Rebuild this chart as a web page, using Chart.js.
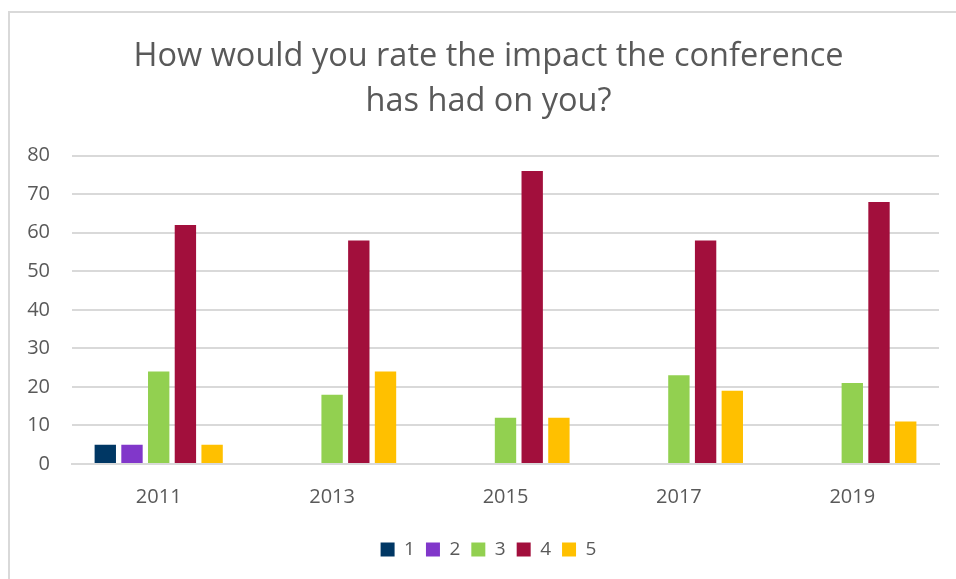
<!DOCTYPE html>
<html>
<head>
<meta charset="utf-8">
<script src="https://cdn.jsdelivr.net/npm/chart.js@4/dist/chart.umd.min.js"></script>
<style>
    html, body { margin: 0; padding: 0; background: #fff; }
    #frame {
        position: absolute; left: 8px; top: 11px; right: -10px; bottom: -10px;
        border-left: 2px solid #d9d9d9; border-top: 2px solid #d9d9d9;
    }
    #wrap { position: absolute; left: 0; top: 0; width: 956px; height: 579px; }
</style>
</head>
<body>
<div id="frame"></div>
<div id="wrap"><canvas id="chart"></canvas></div>
<script>
const years = ["2011", "2013", "2015", "2017", "2019"];
const ratings = ["1", "2", "3", "4", "5"];
const rating1 = [5, 0, 0, 0, 0];
const rating2 = [5, 0, 0, 0, 0];
const rating3 = [24, 18, 12, 23, 21];
const rating4 = [62, 58, 76, 58, 68];
const rating5 = [5, 24, 12, 19, 11];
const yTicks = [0, 10, 20, 30, 40, 50, 60, 70, 80];
const colors = ["#003764", "#8137ca", "#92d050", "#a20f3c", "#ffc000"];

const FONT = "'Open Sans', 'Noto Sans', sans-serif";
const series = [rating1, rating2, rating3, rating4, rating5];

// title and legend sit a bit right of the plot centre in the original
const shiftBlocks = {
    id: "shiftBlocks",
    afterLayout(chart) {
        [chart.titleBlock, chart.legend].forEach(b => {
            if (!b) return;
            b.left += 9;
            b.right += 9;
        });
    }
};

new Chart(document.getElementById("chart"), {
    type: "bar",
    data: {
        labels: years,
        datasets: series.map((d, i) => ({
            label: ratings[i],
            data: d,
            backgroundColor: colors[i],
            categoryPercentage: 0.77,
            barPercentage: 0.8
        }))
    },
    options: {
        responsive: true,
        maintainAspectRatio: false,
        animation: false,
        layout: { padding: { left: 20, right: 17, top: 34, bottom: 10 } },
        plugins: {
            title: {
                display: true,
                text: ["How would you rate the impact the conference", "has had on you?"],
                color: "#595959",
                font: { family: FONT, size: 32.5, weight: "normal", lineHeight: 1.38 },
                padding: { top: 0, bottom: 32 }
            },
            legend: {
                position: "bottom",
                labels: {
                    color: "#595959",
                    font: { family: FONT, size: 19 },
                    boxWidth: 14,
                    boxHeight: 14,
                    padding: 11
                }
            },
            tooltip: { enabled: false }
        },
        scales: {
            x: {
                grid: { display: false },
                border: { color: "#d9d9d9", width: 2 },
                afterFit: s => { s.height += 7; },
                ticks: { color: "#595959", font: { family: FONT, size: 20 }, padding: 13 }
            },
            y: {
                min: 0,
                max: 80,
                afterBuildTicks: s => { s.ticks = yTicks.map(v => ({ value: v })); },
                afterFit: s => { s.width = 52; },
                grid: { color: "#d9d9d9", lineWidth: 2, drawTicks: false },
                border: { display: false },
                ticks: { color: "#595959", font: { family: FONT, size: 20 }, padding: 22 }
            }
        }
    },
    plugins: [shiftBlocks]
});
</script>
</body>
</html>
